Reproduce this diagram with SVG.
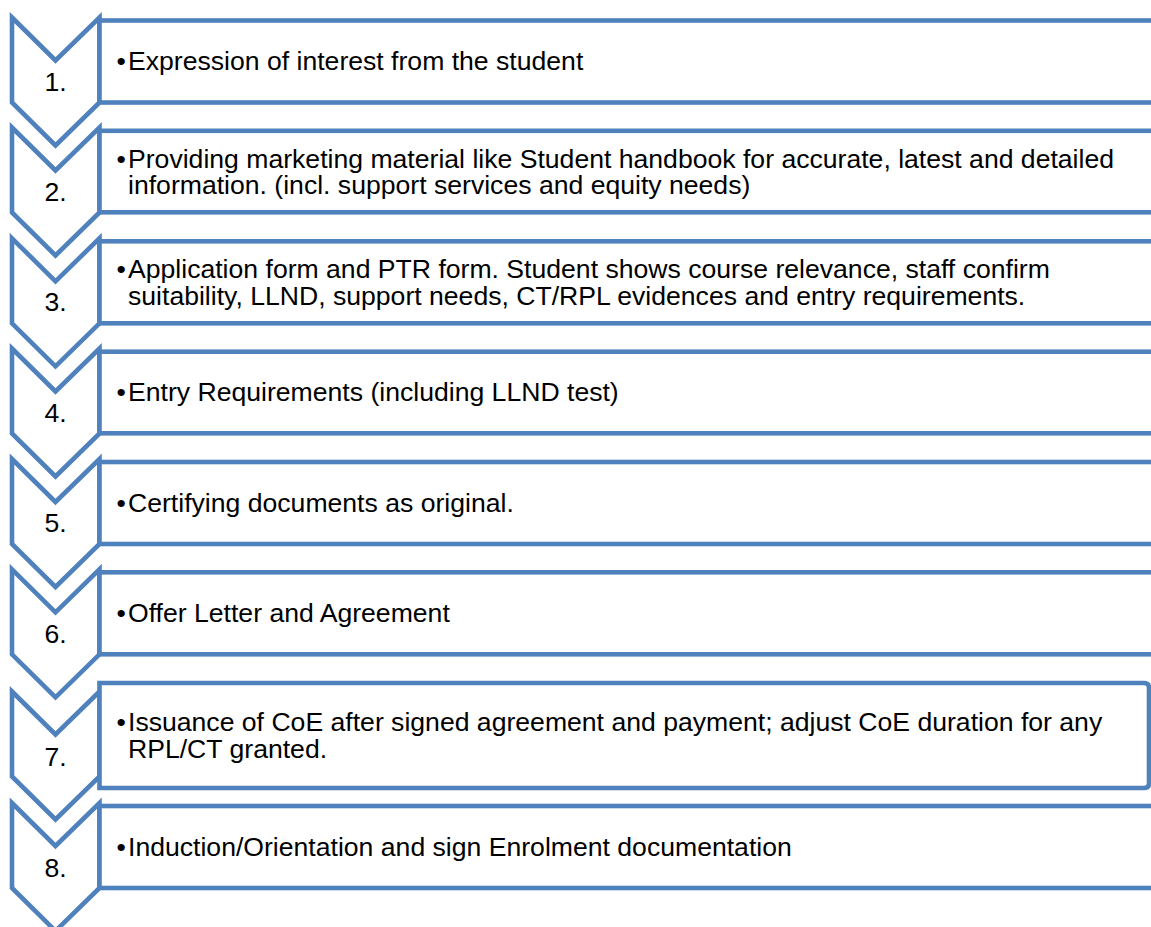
<svg xmlns="http://www.w3.org/2000/svg" width="1151" height="927" viewBox="0 0 1151 927">
<style>
.shape{fill:#fff;stroke:#4F81BD;stroke-width:4.6;stroke-linejoin:miter}
.num{font-family:"Liberation Sans",Arial,sans-serif;font-size:26.6px;fill:#000;text-anchor:middle}
.txt{font-family:"Liberation Sans",Arial,sans-serif;font-size:26.6px;fill:#000}
</style>
<rect width="1151" height="927" fill="#fff"/>
<g id="step1">
<path class="shape" d="M12,17.5 L55.5,60.5 L99.5,17.5 L99.5,102.5 L55.5,145.5 L12,102.5 Z"/>
<rect class="shape" x="99.5" y="20.5" width="1080" height="82"/>
<text class="num" x="55.5" y="90.5">1.</text>
<text class="txt" x="116.5" y="70">•</text><text class="txt" x="128" y="70">Expression of interest from the student</text>
</g>
<g id="step2">
<path class="shape" d="M12,127.5 L55.5,170.5 L99.5,127.5 L99.5,212.5 L55.5,255.5 L12,212.5 Z"/>
<rect class="shape" x="99.5" y="130.8" width="1080" height="81.5"/>
<text class="num" x="55.5" y="200.5">2.</text>
<text class="txt" x="116.5" y="167.5">•</text><text class="txt" x="128" y="167.5">Providing marketing material like Student handbook for accurate, latest and detailed</text>
<text class="txt" x="128" y="194">information. (incl. support services and equity needs)</text>
</g>
<g id="step3">
<path class="shape" d="M12,238.3 L55.5,281.3 L99.5,238.3 L99.5,323.3 L55.5,366.3 L12,323.3 Z"/>
<rect class="shape" x="99.5" y="241.3" width="1080" height="82"/>
<text class="num" x="55.5" y="311.3">3.</text>
<text class="txt" x="116.5" y="278">•</text><text class="txt" x="128" y="278">Application form and PTR form. Student shows course relevance, staff confirm</text>
<text class="txt" x="128" y="304.5">suitability, LLND, support needs, CT/RPL evidences and entry requirements.</text>
</g>
<g id="step4">
<path class="shape" d="M12,348.5 L55.5,391.5 L99.5,348.5 L99.5,433.5 L55.5,476.5 L12,433.5 Z"/>
<rect class="shape" x="99.5" y="351.7" width="1080" height="81.6"/>
<text class="num" x="55.5" y="421.5">4.</text>
<text class="txt" x="116.5" y="401">•</text><text class="txt" x="128" y="401">Entry Requirements (including LLND test)</text>
</g>
<g id="step5">
<path class="shape" d="M12,459 L55.5,502 L99.5,459 L99.5,544 L55.5,587 L12,544 Z"/>
<rect class="shape" x="99.5" y="462" width="1080" height="82"/>
<text class="num" x="55.5" y="532">5.</text>
<text class="txt" x="116.5" y="511.5">•</text><text class="txt" x="128" y="511.5">Certifying documents as original.</text>
</g>
<g id="step6">
<path class="shape" d="M12,569.3 L55.5,612.3 L99.5,569.3 L99.5,654.3 L55.5,697.3 L12,654.3 Z"/>
<rect class="shape" x="99.5" y="572.3" width="1080" height="82"/>
<text class="num" x="55.5" y="642.5">6.</text>
<text class="txt" x="116.5" y="622">•</text><text class="txt" x="128" y="622">Offer Letter and Agreement</text>
</g>
<g id="step7">
<path class="shape" d="M12,691.5 L55.5,734.5 L99.5,691.5 L99.5,776.5 L55.5,819.5 L12,776.5 Z"/>
<path class="shape" d="M99.5,683 L1144,683 Q1149,683 1149,688 L1149,783 Q1149,788 1144,788 L99.5,788 Z"/>
<text class="num" x="55.5" y="766">7.</text>
<text class="txt" x="116.5" y="731">•</text><text class="txt" x="128" y="731">Issuance of CoE after signed agreement and payment; adjust CoE duration for any</text>
<text class="txt" x="128" y="757.5">RPL/CT granted.</text>
</g>
<g id="step8">
<path class="shape" d="M12,803 L55.5,846 L99.5,803 L99.5,888 L55.5,931 L12,888 Z"/>
<rect class="shape" x="99.5" y="806" width="1080" height="82"/>
<text class="num" x="55.5" y="877">8.</text>
<text class="txt" x="116.5" y="855.5">•</text><text class="txt" x="128" y="855.5">Induction/Orientation and sign Enrolment documentation</text>
</g>
<g id="connectors"></g>
</svg>
